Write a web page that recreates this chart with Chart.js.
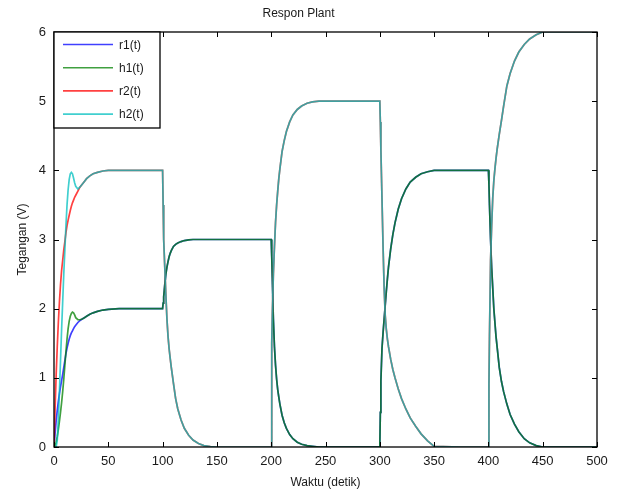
<!DOCTYPE html>
<html>
<head>
<meta charset="utf-8">
<script src="https://cdn.jsdelivr.net/npm/chart.js@4/dist/chart.umd.min.js"></script>
<style>
  html, body { margin: 0; padding: 0; background: #fff; }
  #wrap { width: 618px; height: 495px; }
</style>
</head>
<body>
<div id="wrap"><canvas id="c" width="618" height="495"></canvas></div>
<script>
// waktu (detik) — dense around each step
const waktu = [
  0, 1, 2, 3, 4, 5, 6, 7, 8, 9, 10, 11, 12, 13, 14, 15, 16, 17, 18, 19, 20,
  22, 24, 26, 28, 30, 33, 36, 40, 45, 50,
  60, 75, 90,
  100, 100.5, 101, 102, 103, 104, 105, 106, 107, 108, 110, 112, 114, 117, 120, 124, 128, 133, 138, 144, 150,
  175,
  200, 200.5, 201, 202, 203, 204, 205, 206, 207, 208, 210, 212, 214, 217, 220, 224, 228, 233, 238, 244, 250,
  275,
  300, 300.5, 301, 302, 303, 304, 305, 306, 307, 308, 310, 312, 314, 317, 320, 324, 328, 333, 338, 344, 350,
  375,
  400, 400.5, 401, 402, 403, 404, 405, 406, 407, 408, 410, 412, 414, 417, 420, 424, 428, 433, 438, 444, 450,
  475, 500,
];

const r1 = [
  0, 0.2, 0.38, 0.53, 0.66, 0.77, 0.87, 0.96, 1.05, 1.15, 1.25, 1.35, 1.43, 1.5, 1.56, 1.61, 1.65, 1.68, 1.71, 1.74, 1.76,
  1.8, 1.83, 1.85, 1.87, 1.89, 1.92, 1.94, 1.96, 1.98, 1.99,
  2, 2, 2,
  2, 2.08, 2.17, 2.35, 2.5, 2.6, 2.68, 2.75, 2.8, 2.84, 2.9, 2.93, 2.95, 2.97, 2.985, 2.995, 3, 3, 3, 3, 3,
  3,
  3, 2.75, 2.45, 1.85, 1.45, 1.18, 0.98, 0.83, 0.72, 0.62, 0.46, 0.35, 0.27, 0.18, 0.12, 0.07, 0.04, 0.02, 0.01, 0, 0,
  0,
  0, 0.5, 0.95, 1.42, 1.65, 1.85, 2.05, 2.25, 2.43, 2.6, 2.86, 3.07, 3.24, 3.44, 3.59, 3.73, 3.83, 3.9, 3.95, 3.98, 4,
  4,
  4, 3.8, 3.5, 3, 2.6, 2.3, 2, 1.8, 1.6, 1.45, 1.15, 0.95, 0.8, 0.62, 0.47, 0.33, 0.22, 0.12, 0.06, 0.02, 0,
  0, 0,
];

const h1 = [
  0, 0.02, 0.07, 0.15, 0.25, 0.37, 0.5, 0.64, 0.8, 0.98, 1.18, 1.38, 1.56, 1.71, 1.82, 1.89, 1.93, 1.95, 1.94, 1.91, 1.87,
  1.84, 1.84, 1.85, 1.87, 1.89, 1.92, 1.94, 1.96, 1.98, 1.99,
  2, 2, 2,
  2, 2.08, 2.17, 2.35, 2.5, 2.6, 2.68, 2.75, 2.8, 2.84, 2.9, 2.93, 2.95, 2.97, 2.985, 2.995, 3, 3, 3, 3, 3,
  3,
  3, 2.75, 2.45, 1.85, 1.45, 1.18, 0.98, 0.83, 0.72, 0.62, 0.46, 0.35, 0.27, 0.18, 0.12, 0.07, 0.04, 0.02, 0.01, 0, 0,
  0,
  0, 0.5, 0.95, 1.42, 1.65, 1.85, 2.05, 2.25, 2.43, 2.6, 2.86, 3.07, 3.24, 3.44, 3.59, 3.73, 3.83, 3.9, 3.95, 3.98, 4,
  4,
  4, 3.8, 3.5, 3, 2.6, 2.3, 2, 1.8, 1.6, 1.45, 1.15, 0.95, 0.8, 0.62, 0.47, 0.33, 0.22, 0.12, 0.06, 0.02, 0,
  0, 0,
];

const r2 = [
  0, 0.55, 1.05, 1.45, 1.8, 2.1, 2.35, 2.55, 2.7, 2.85, 2.97, 3.1, 3.2, 3.28, 3.35, 3.42, 3.48, 3.53, 3.57, 3.61, 3.64,
  3.7, 3.76, 3.8, 3.84, 3.88, 3.92, 3.95, 3.97, 3.99, 4,
  4, 4, 4,
  4, 3.5, 3, 2.6, 2.2, 1.85, 1.6, 1.42, 1.28, 1.15, 0.92, 0.7, 0.55, 0.39, 0.27, 0.17, 0.1, 0.05, 0.02, 0.005, 0,
  0,
  0, 1.5, 1.9, 2.5, 2.9, 3.25, 3.5, 3.7, 3.88, 4.02, 4.27, 4.43, 4.56, 4.7, 4.8, 4.88, 4.93, 4.97, 4.99, 5, 5,
  5,
  5, 4.7, 4.3, 3.6, 2.9, 2.3, 1.9, 1.7, 1.56, 1.45, 1.27, 1.12, 1, 0.84, 0.7, 0.55, 0.42, 0.3, 0.19, 0.09, 0.01,
  0,
  0, 0.9, 1.6, 2.7, 3.2, 3.6, 3.85, 4.02, 4.17, 4.3, 4.52, 4.72, 4.93, 5.22, 5.4, 5.58, 5.71, 5.82, 5.9, 5.96, 6,
  6, 6,
];

const h2 = [
  0, 0, 0, 0.1, 0.4, 0.8, 1.25, 1.7, 2.1, 2.5, 2.85, 3.2, 3.5, 3.72, 3.87, 3.95, 3.97, 3.95, 3.89, 3.82, 3.77,
  3.73, 3.76, 3.8, 3.84, 3.88, 3.92, 3.95, 3.97, 3.99, 4,
  4, 4, 4,
  4, 3.5, 3, 2.6, 2.2, 1.85, 1.6, 1.42, 1.28, 1.15, 0.92, 0.7, 0.55, 0.39, 0.27, 0.17, 0.1, 0.05, 0.02, 0.005, 0,
  0,
  0, 1.5, 1.9, 2.5, 2.9, 3.25, 3.5, 3.7, 3.88, 4.02, 4.27, 4.43, 4.56, 4.7, 4.8, 4.88, 4.93, 4.97, 4.99, 5, 5,
  5,
  5, 4.7, 4.3, 3.6, 2.9, 2.3, 1.9, 1.7, 1.56, 1.45, 1.27, 1.12, 1, 0.84, 0.7, 0.55, 0.42, 0.3, 0.19, 0.09, 0.01,
  0,
  0, 0.9, 1.6, 2.7, 3.2, 3.6, 3.85, 4.02, 4.17, 4.3, 4.52, 4.72, 4.93, 5.22, 5.4, 5.58, 5.71, 5.82, 5.9, 5.96, 6,
  6, 6,
];

const labels = ["r1(t)", "h1(t)", "r2(t)", "h2(t)"];
// matlab b / g / r / c, a bit see-through so overlapping traces blend like the original
const colors = ["rgba(0,0,255,0.75)", "rgba(0,128,0,0.75)", "rgba(255,0,0,0.75)", "rgba(0,191,191,0.75)"];
const xTicks = [0, 50, 100, 150, 200, 250, 300, 350, 400, 450, 500];
const yTicks = [0, 1, 2, 3, 4, 5, 6];

const FONT = "'Liberation Sans', Arial, sans-serif";
const TXT = "#1a1a1a";

const pts = (ys) => waktu.map((t, i) => ({ x: t, y: ys[i] }));

// matlab-style box with inward ticks + legend inside the axes
const boxPlugin = {
  id: "boxPlugin",
  afterDraw(chart) {
    const { ctx, chartArea: a, scales } = chart;
    ctx.save();
    ctx.strokeStyle = "#000";
    ctx.lineWidth = 1.3;
    ctx.strokeRect(a.left, a.top, a.right - a.left, a.bottom - a.top);
    ctx.lineWidth = 1;
    ctx.beginPath();
    for (const v of xTicks) {
      const px = Math.round(scales.x.getPixelForValue(v)) + 0.5;
      ctx.moveTo(px, a.bottom); ctx.lineTo(px, a.bottom - 5);
      ctx.moveTo(px, a.top); ctx.lineTo(px, a.top + 5);
    }
    for (const v of yTicks) {
      const py = Math.round(scales.y.getPixelForValue(v)) + 0.5;
      ctx.moveTo(a.left, py); ctx.lineTo(a.left + 5, py);
      ctx.moveTo(a.right, py); ctx.lineTo(a.right - 5, py);
    }
    ctx.stroke();

    // legend
    const lx = a.left, ly = a.top, lw = 106, lh = 96;
    ctx.fillStyle = "#fff";
    ctx.fillRect(lx, ly, lw, lh);
    ctx.lineWidth = 1.3;
    ctx.strokeStyle = "#000";
    ctx.strokeRect(lx, ly, lw, lh);
    ctx.font = "12px " + FONT;
    ctx.textBaseline = "middle";
    chart.data.datasets.forEach((ds, i) => {
      const y = ly + 12.5 + i * 23.2;
      ctx.strokeStyle = ds.borderColor;
      ctx.lineWidth = 1.6;
      ctx.beginPath();
      ctx.moveTo(lx + 9, y); ctx.lineTo(lx + 59, y);
      ctx.stroke();
      ctx.fillStyle = TXT;
      ctx.fillText(ds.label, lx + 65, y + 1);
    });
    ctx.restore();
  },
};

new Chart(document.getElementById("c"), {
  type: "scatter",
  data: {
    datasets: [r1, h1, r2, h2].map((ys, i) => ({
      label: labels[i],
      data: pts(ys),
      showLine: true,
      borderColor: colors[i],
      backgroundColor: colors[i],
      borderWidth: 1.7,
      pointRadius: 0,
      tension: 0,
      order: 4 - i, // later series drawn on top, like matlab
    })),
  },
  options: {
    responsive: false,
    animation: false,
    layout: { padding: { left: 0, right: 21, top: 0, bottom: 0 } },
    plugins: {
      legend: { display: false },
      tooltip: { enabled: false },
      title: {
        display: true,
        text: "Respon Plant",
        color: TXT,
        font: { family: FONT, size: 12, weight: "normal" },
        padding: { top: 6, bottom: 11.6 },
      },
    },
    scales: {
      x: {
        type: "linear",
        min: 0, max: 500,
        afterBuildTicks: (s) => { s.ticks = xTicks.map((v) => ({ value: v })); },
        afterFit: (s) => { s.height = 48; },
        grid: { display: false, drawTicks: false },
        border: { display: false },
        ticks: { color: TXT, font: { family: FONT, size: 13 }, padding: 7, maxRotation: 0 },
        title: {
          display: true, text: "Waktu (detik)", color: TXT,
          font: { family: FONT, size: 12 }, padding: { top: 0, bottom: 5 },
        },
      },
      y: {
        min: 0, max: 6,
        afterBuildTicks: (s) => { s.ticks = yTicks.map((v) => ({ value: v })); },
        afterFit: (s) => { s.width = 54; },
        grid: { display: false, drawTicks: false },
        border: { display: false },
        ticks: { color: TXT, font: { family: FONT, size: 13 }, padding: 8 },
        title: {
          display: true, text: "Tegangan (V)", color: TXT,
          font: { family: FONT, size: 12 }, padding: { top: 15, bottom: 0 },
        },
      },
    },
  },
  plugins: [boxPlugin],
});
</script>
</body>
</html>
